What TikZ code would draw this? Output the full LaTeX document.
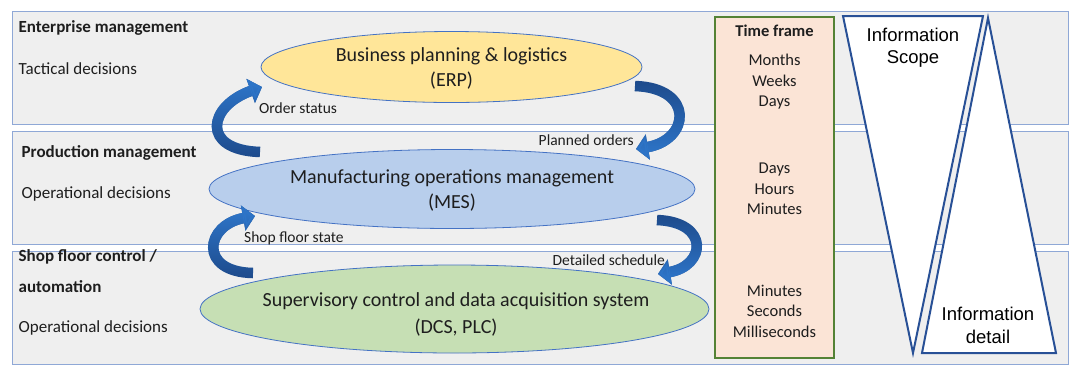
\documentclass[tikz,border=0pt]{standalone}
\usepackage{fontspec}
\setmainfont{Carlito}
\newfontfamily\arialf{Liberation Sans}
\usetikzlibrary{shapes.geometric,arrows.meta,fadings}
\definecolor{bandfill}{RGB}{239,239,239}
\definecolor{bandline}{RGB}{143,168,214}
\definecolor{erpfill}{RGB}{255,230,153}
\definecolor{mesfill}{RGB}{184,206,236}
\definecolor{scadafill}{RGB}{198,223,180}
\definecolor{ellline}{RGB}{68,114,196}
\definecolor{tffill}{RGB}{251,228,214}
\definecolor{tfline}{RGB}{84,130,53}
\definecolor{triline}{RGB}{40,80,150}
\definecolor{arrdark}{RGB}{30,75,140}
\definecolor{arrlight}{RGB}{46,117,200}
\definecolor{txt}{RGB}{30,30,30}
\begin{document}
\begin{tikzpicture}[x=1pt,y=-1pt,
  band/.style={fill=bandfill,draw=bandline,line width=0.9pt},
  ell/.style={ellipse,draw=ellline,line width=0.8pt,inner sep=0pt},
  head/.style={anchor=base west,text=txt,inner sep=0pt,font=\fontsize{17}{20}\selectfont\bfseries},
  sub/.style={anchor=base west,text=txt,inner sep=0pt,font=\fontsize{17}{20}\selectfont},
  elltxt/.style={anchor=base,text=txt,inner sep=0pt,font=\fontsize{20}{24}\selectfont},
  flow/.style={text=txt,inner sep=0pt,font=\fontsize{15.5}{18}\selectfont},
  tftxt/.style={anchor=base,text=txt,inner sep=0pt,font=\fontsize{16.5}{20}\selectfont},
  infotxt/.style={anchor=base,text=black,inner sep=0pt,font=\arialf\fontsize{18.5}{22}\selectfont},
  tri/.style={fill=white,draw=triline,line width=2pt,line join=miter},
  arrowbase/.style={line width=10.5pt,arrdark,-{Triangle[width=25pt,length=12pt]}},
  arrowup/.style={line width=10.5pt,arrlight,-{Triangle[width=25pt,length=12pt]},path fading=south},
  arrowdown/.style={line width=10.5pt,arrlight,-{Triangle[width=25pt,length=12pt]},path fading=north}
]
\useasboundingbox (0,0) rectangle (1080,376);
\fill[white] (0,0) rectangle (1080,376);

% bands
\draw[band] (12,11) rectangle (1068,124);
\draw[band] (12,131) rectangle (1068,244);
\draw[band] (12,251) rectangle (1068,364);

% left labels
\node[head] (em) at (18.5,32) {Enterprise management};
\node[sub] (td) at (18.5,74) {Tactical decisions};
\node[head] (pm) at (21.5,157) {Production management};
\node[sub] (od1) at (21.5,198) {Operational decisions};
\node[head] (sf1) at (18.5,261) {Shop floor control /};
\node[head] (sf2) at (18.5,292) {automation};
\node[sub] (od2) at (18.5,332) {Operational decisions};

% ellipses
\node[ell,fill=erpfill,minimum width=381pt,minimum height=71pt] (erp) at (451.5,67) {};
\node[ell,fill=mesfill,minimum width=486pt,minimum height=79pt] (mes) at (452,189) {};
\node[ell,fill=scadafill,minimum width=509pt,minimum height=88pt] (scada) at (454.5,309) {};

\node[elltxt] (erp1) at (451.5,61.7) {Business planning \& logistics};
\node[elltxt] (erp2) at (451.5,86) {(ERP)};
\node[elltxt] (mes1) at (452,183.3) {Manufacturing operations management};
\node[elltxt] (mes2) at (452,208) {(MES)};
\node[elltxt] (sc1) at (456,306.7) {Supervisory control and data acquisition system};
\node[elltxt] (sc2) at (456,333) {(DCS, PLC)};

% arrow labels
\node[flow,anchor=base west] (ost) at (259,113) {Order status};
\node[flow,anchor=base east] (plo) at (634,145) {Planned orders};
\node[flow,anchor=base west] (sfs) at (244,242.7) {Shop floor state};
\node[flow,anchor=base east] (dsc) at (665,265) {Detailed schedule};

% curved arrows
\coordinate (aT) at (260,152); \coordinate (aH) at (262,87);
\coordinate (bT) at (635,86);  \coordinate (bH) at (636,149);
\coordinate (cT) at (253,273); \coordinate (cH) at (255,216);
\coordinate (dT) at (657,220); \coordinate (dH) at (658,274);
\draw[arrowbase] (aT) .. controls (200,150) and (208,106) .. (aH);
\draw[arrowup]   (aT) .. controls (200,150) and (208,106) .. (aH);
\draw[arrowbase] (bT) .. controls (695,88) and (690,140) .. (bH);
\draw[arrowdown] (bT) .. controls (695,88) and (690,140) .. (bH);
\draw[arrowbase] (cT) .. controls (198,272) and (205,225) .. (cH);
\draw[arrowup]   (cT) .. controls (198,272) and (205,225) .. (cH);
\draw[arrowbase] (dT) .. controls (710,222) and (706,266) .. (dH);
\draw[arrowdown] (dT) .. controls (710,222) and (706,266) .. (dH);

% time frame
\draw[fill=tffill,draw=tfline,line width=2pt] (715,17) rectangle (834,358);
\node[tftxt,font=\fontsize{16.5}{20}\selectfont\bfseries] (tf) at (774.5,36.7) {Time frame};
\node[tftxt] (t1) at (774.5,65) {Months};
\node[tftxt] (t2) at (774.5,86) {Weeks};
\node[tftxt] (t3) at (774.5,106.7) {Days};
\node[tftxt] (t4) at (774.5,173) {Days};
\node[tftxt] (t5) at (774.5,194) {Hours};
\node[tftxt] (t6) at (774.5,214) {Minutes};
\node[tftxt] (t7) at (774.5,296) {Minutes};
\node[tftxt] (t8) at (774.5,316.7) {Seconds};
\node[tftxt] (t9) at (774.5,337) {Milliseconds};

% information triangles
\coordinate (s1) at (843,16); \coordinate (s2) at (983,16); \coordinate (s3) at (913,353);
\coordinate (d1) at (988,18); \coordinate (d2) at (1056,353); \coordinate (d3) at (922,353);
\draw[tri] (s1) -- (s2) -- (s3) -- cycle;
\draw[tri] (d1) -- (d2) -- (d3) -- cycle;
\node[infotxt] (is1) at (913,41.7) {Information};
\node[infotxt] (is2) at (913,63) {Scope};
\node[infotxt] (id1) at (988,320) {Information};
\node[infotxt] (id2) at (988,343) {detail};
\end{tikzpicture}
\end{document}
